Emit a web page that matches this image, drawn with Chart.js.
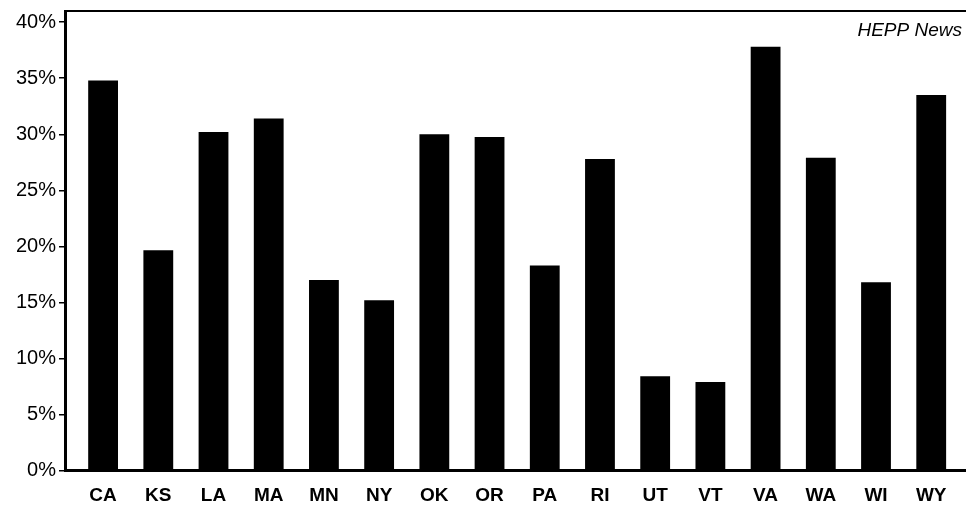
<!DOCTYPE html>
<html>
<head>
<meta charset="utf-8">
<script src="https://cdn.jsdelivr.net/npm/chart.js@4/dist/chart.umd.min.js"></script>
<style>
  body { margin: 0; background: #fff; }
  #wrap { width: 966px; height: 508px; position: relative; }
</style>
</head>
<body>
<div id="wrap"><canvas id="myChart"></canvas></div>
<script>
// states and share values (%)
var categories = ['CA','KS','LA','MA','MN','NY','OK','OR','PA','RI','UT','VT','VA','WA','WI','WY'];
var shares = [34.8, 19.65, 30.2, 31.4, 17.0, 15.2, 30.0, 29.75, 18.3, 27.8, 8.4, 7.9, 37.8, 27.9, 16.8, 33.5];
var yTicks = [0, 5, 10, 15, 20, 25, 30, 35, 40];
var sourceNote = 'HEPP News';

var FONT = "'Liberation Sans', Arial, sans-serif";

var points = [];
for (var i = 0; i < categories.length; i++) {
	points.push({ x: i, y: shares[i] });
}

// top rule + note text
var framePlugin = {
	id: 'frame',
	afterDraw: function(chart) {
		var a = chart.chartArea;
		var ctx = chart.ctx;
		ctx.save();
		ctx.strokeStyle = '#000';
		ctx.lineWidth = 2;
		ctx.beginPath();
		ctx.moveTo(a.left, a.top);
		ctx.lineTo(chart.width, a.top);
		ctx.stroke();
		ctx.fillStyle = '#000';
		ctx.font = 'italic 19px ' + FONT;
		ctx.textAlign = 'right';
		ctx.textBaseline = 'alphabetic';
		ctx.fillText(sourceNote, a.right - 4, a.top + 25);
		ctx.restore();
	}
};

var ctx = document.getElementById('myChart');
var chart = new Chart(ctx, {
	type: 'bar',
	data: {
		datasets: [{
			data: points,
			backgroundColor: '#000',
			borderWidth: 0,
			categoryPercentage: 1,
			barPercentage: 0.54
		}]
	},
	options: {
		responsive: true,
		maintainAspectRatio: false,
		animation: false,
		layout: { padding: { top: 11, right: 0, left: 0, bottom: 0 } },
		plugins: { legend: { display: false }, tooltip: { enabled: false } },
		scales: {
			x: {
				type: 'linear',
				offset: false,
				min: -0.69,
				max: 15.63,
				afterBuildTicks: function(s) {
					s.ticks = categories.map(function(c, i) { return { value: i }; });
				},
				afterFit: function(s) { s.height = 37.5; s.paddingLeft = 0; s.paddingRight = 0; },
				grid: { offset: false, drawOnChartArea: false, drawTicks: false },
				border: { display: true, color: '#000', width: 3 },
				ticks: {
					color: '#000',
					padding: 14,
					font: { family: FONT, size: 19, weight: 'bold' },
					callback: function(v) { return categories[v]; }
				}
			},
			y: {
				min: 0,
				max: 41,
				afterBuildTicks: function(s) {
					s.ticks = yTicks.map(function(v) { return { value: v }; });
				},
				afterFit: function(s) { s.width = 65; s.paddingTop = 0; s.paddingBottom = 0; },
				grid: { drawOnChartArea: false, drawTicks: true, tickLength: 6, color: '#000', lineWidth: 1.5 },
				border: { display: true, color: '#000', width: 3 },
				ticks: {
					color: '#000',
					padding: 3,
					font: { family: FONT, size: 20 },
					callback: function(v) { return v + '%'; }
				}
			}
		}
	},
	plugins: [framePlugin]
});
</script>
</body>
</html>
